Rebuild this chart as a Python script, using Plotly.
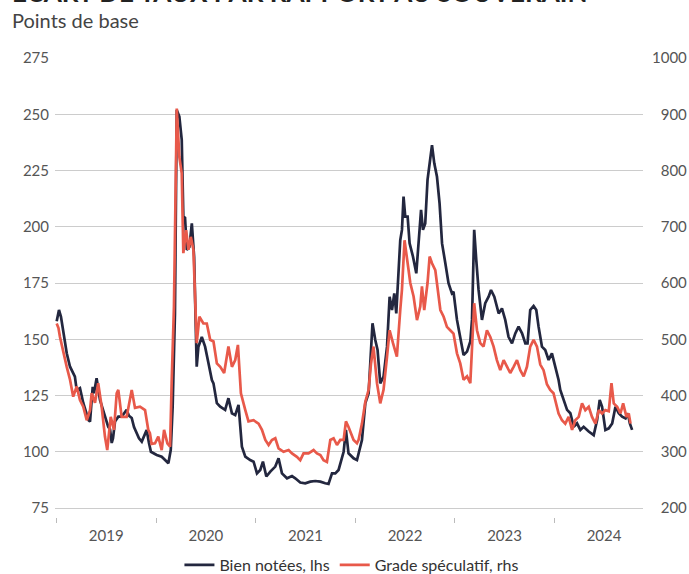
import math
from datetime import datetime, timedelta
import plotly.graph_objects as go

# ---------------- data (decimal years, basis points) ----------------
bien_t = [2019.002, 2019.025, 2019.045, 2019.068, 2019.103, 2019.136, 2019.165, 2019.185, 2019.203, 2019.236,
          2019.269, 2019.304, 2019.322, 2019.337, 2019.364, 2019.377, 2019.403, 2019.437, 2019.467, 2019.487,
          2019.520, 2019.538, 2019.555, 2019.568, 2019.588, 2019.621, 2019.655, 2019.678, 2019.705, 2019.728,
          2019.756, 2019.779, 2019.806, 2019.829, 2019.857, 2019.880, 2019.906, 2019.929, 2019.949, 2020.007,
          2020.057, 2020.091, 2020.124, 2020.148, 2020.167, 2020.190, 2020.208, 2020.234, 2020.258, 2020.274,
          2020.291, 2020.309, 2020.335, 2020.359, 2020.382, 2020.408, 2020.425, 2020.459, 2020.492, 2020.526,
          2020.560, 2020.576, 2020.610, 2020.644, 2020.693, 2020.726, 2020.761, 2020.794, 2020.827, 2020.861,
          2020.895, 2020.944, 2020.978, 2021.012, 2021.045, 2021.072, 2021.106, 2021.146, 2021.196, 2021.229,
          2021.263, 2021.314, 2021.364, 2021.397, 2021.447, 2021.497, 2021.548, 2021.598, 2021.649, 2021.698,
          2021.731, 2021.766, 2021.799, 2021.832, 2021.856, 2021.883, 2021.906, 2021.932, 2021.983, 2022.017,
          2022.067, 2022.101, 2022.134, 2022.151, 2022.173, 2022.201, 2022.224, 2022.251, 2022.284, 2022.319,
          2022.345, 2022.369, 2022.392, 2022.412, 2022.435, 2022.452, 2022.469, 2022.485, 2022.502, 2022.526,
          2022.546, 2022.580, 2022.613, 2022.637, 2022.661, 2022.680, 2022.703, 2022.726, 2022.747, 2022.771,
          2022.794, 2022.821, 2022.847, 2022.872, 2022.905, 2022.937, 2022.971, 2022.987, 2023.022, 2023.055,
          2023.088, 2023.123, 2023.156, 2023.173, 2023.195, 2023.216, 2023.239, 2023.273, 2023.306, 2023.340,
          2023.364, 2023.397, 2023.441, 2023.474, 2023.507, 2023.540, 2023.575, 2023.608, 2023.641, 2023.676,
          2023.709, 2023.731, 2023.758, 2023.792, 2023.819, 2023.842, 2023.876, 2023.909, 2023.943, 2023.976,
          2024.010, 2024.043, 2024.060, 2024.094, 2024.128, 2024.161, 2024.195, 2024.228, 2024.261, 2024.294,
          2024.345, 2024.395, 2024.429, 2024.455, 2024.479, 2024.512, 2024.546, 2024.580, 2024.613, 2024.646,
          2024.680, 2024.714, 2024.737, 2024.757, 2024.780]
bien_v = [158, 163, 160, 152.8, 143.8, 137.8, 135, 133.4, 127.4, 128.3,
          121.7, 116.3, 114, 113.4, 128.9, 126, 132.7, 123, 119, 115.6,
          111.1, 110, 103.9, 106, 113.4, 115.6, 115.6, 117, 118.6, 116,
          115, 111, 108.3, 106, 104.5, 107, 109.7, 104, 100, 98.6,
          97.8, 96.3, 94.9, 100.8, 120, 161.5, 251.9, 249, 238.6, 204.5,
          204, 189.7, 191, 201.5, 186.7, 137.8, 146.7, 151, 146.7, 139.3,
          131.9, 130.4, 121.6, 120, 118.6, 123.8, 117.1, 116.3, 120.8, 102.2,
          97.8, 96.3, 95.6, 90.4, 91.9, 95.6, 89, 91.2, 93.4, 97.1,
          90.4, 88.2, 89.2, 88.2, 86.3, 86, 86.7, 87, 86.7, 86,
          85.7, 90.4, 90.4, 91.9, 95.6, 100, 109.7, 99.3, 97.1, 96.3,
          105.2, 121.6, 126, 140.8, 157.1, 149.7, 145.2, 130.4, 133.4, 146.7,
          168.9, 163, 170.4, 161.5, 177.8, 194.1, 198.6, 213.4, 204.5, 204.5,
          192.6, 186.7, 179.3, 194.1, 207.5, 198.6, 201.5, 220.8, 228.2, 236.3,
          228.2, 222.2, 210.4, 192.6, 183.8, 174.9, 170.4, 171.1, 158.6, 151.1,
          143, 144.5, 149, 158.6, 198.6, 185.2, 171.9, 158.6, 166, 168.9,
          171.9, 168.9, 161.5, 163.7, 158.6, 151.1, 148.2, 152.6, 155.6, 152.6,
          148.2, 148.2, 163, 164.8, 163, 155.6, 146.7, 145.2, 140.8, 143.7,
          137.8, 131.9, 127.5, 123, 118.6, 117.1, 111.1, 112.6, 109.7, 111.1,
          109, 107.4, 114.1, 123, 120, 109.7, 110.4, 112.6, 120, 117.1,
          115.6, 114.8, 117.1, 112.6, 109.7]

spec_t = [2019.002, 2019.020, 2019.035, 2019.068, 2019.103, 2019.136, 2019.168, 2019.203, 2019.236, 2019.269,
          2019.304, 2019.337, 2019.354, 2019.387, 2019.419, 2019.454, 2019.487, 2019.510, 2019.545, 2019.578,
          2019.605, 2019.621, 2019.655, 2019.705, 2019.756, 2019.789, 2019.839, 2019.890, 2019.922, 2019.939,
          2019.956, 2019.990, 2020.023, 2020.057, 2020.081, 2020.114, 2020.141, 2020.157, 2020.180, 2020.208,
          2020.234, 2020.258, 2020.274, 2020.302, 2020.325, 2020.349, 2020.375, 2020.408, 2020.435, 2020.475,
          2020.509, 2020.543, 2020.576, 2020.610, 2020.644, 2020.683, 2020.726, 2020.761, 2020.794, 2020.821,
          2020.851, 2020.895, 2020.927, 2020.978, 2021.028, 2021.062, 2021.096, 2021.129, 2021.162, 2021.196,
          2021.229, 2021.279, 2021.330, 2021.364, 2021.413, 2021.447, 2021.480, 2021.530, 2021.581, 2021.615,
          2021.649, 2021.681, 2021.715, 2021.749, 2021.782, 2021.816, 2021.849, 2021.883, 2021.906, 2021.932,
          2021.983, 2022.017, 2022.033, 2022.067, 2022.101, 2022.134, 2022.158, 2022.183, 2022.218, 2022.251,
          2022.284, 2022.319, 2022.345, 2022.379, 2022.418, 2022.452, 2022.469, 2022.495, 2022.519, 2022.553,
          2022.586, 2022.620, 2022.653, 2022.670, 2022.693, 2022.726, 2022.747, 2022.771, 2022.804, 2022.827,
          2022.855, 2022.888, 2022.921, 2022.954, 2022.987, 2023.022, 2023.055, 2023.088, 2023.123, 2023.156,
          2023.173, 2023.195, 2023.223, 2023.256, 2023.289, 2023.323, 2023.357, 2023.390, 2023.423, 2023.457,
          2023.491, 2023.524, 2023.557, 2023.591, 2023.625, 2023.658, 2023.692, 2023.725, 2023.758, 2023.792,
          2023.826, 2023.859, 2023.892, 2023.926, 2023.959, 2023.992, 2024.027, 2024.043, 2024.077, 2024.110,
          2024.144, 2024.178, 2024.210, 2024.245, 2024.278, 2024.311, 2024.345, 2024.378, 2024.412, 2024.446,
          2024.479, 2024.512, 2024.546, 2024.573, 2024.596, 2024.630, 2024.663, 2024.690, 2024.723, 2024.746,
          2024.764]
spec_v = [528, 520, 504, 476, 451, 428, 398, 416, 392, 380,
          356, 374, 404, 387, 422, 380, 327, 303, 362, 339,
          404, 410, 362, 362, 410, 378, 380, 374, 339, 333,
          314, 315, 327, 303, 339, 315, 309, 422, 558, 910,
          824, 795, 653, 694, 659, 682, 659, 493, 540, 528,
          528, 499, 496, 457, 451, 440, 487, 451, 463, 490,
          404, 374, 354, 356, 350, 339, 321, 312, 321, 324,
          306, 300, 303, 297, 291, 285, 297, 297, 303, 297,
          294, 285, 282, 321, 324, 312, 321, 321, 354, 344,
          321, 315, 321, 350, 389, 410, 457, 487, 422, 386,
          410, 469, 516, 493, 469, 552, 588, 676, 647, 600,
          576, 534, 558, 594, 552, 600, 647, 635, 623, 594,
          552, 540, 522, 516, 510, 475, 457, 428, 434, 422,
          475, 564, 516, 493, 487, 516, 504, 487, 463, 445,
          463, 451, 440, 451, 463, 445, 434, 451, 487, 499,
          487, 455, 445, 420, 410, 404, 380, 368, 356, 350,
          362, 339, 356, 362, 386, 374, 380, 362, 350, 374,
          368, 374, 372, 422, 386, 380, 368, 386, 362, 368,
          350]

left_ticks = [75, 100, 125, 150, 175, 200, 225, 250, 275]
right_ticks = [200, 300, 400, 500, 600, 700, 800, 900, 1000]

title_text = "ÉCART DE TAUX PAR RAPPORT AU SOUVERAIN"
subtitle_text = "Points de base"
name_bien = "Bien notées, lhs"
name_spec = "Grade spéculatif, rhs"


def dec_to_date(t):
    y = int(math.floor(t))
    start = datetime(y, 1, 1)
    n = (datetime(y + 1, 1, 1) - start).days
    return start + timedelta(days=(t - y) * n)


bien_x = [dec_to_date(t) for t in bien_t]
spec_x = [dec_to_date(t) for t in spec_t]

NAVY = "#23273f"
RED = "#e8594a"
FONT = "Lato"

W, H = 689, 574
ML, MR, MT, MB = 55, 46, 58, 57
PH = H - MT - MB
PW = W - ML - MR

fig = go.Figure()
fig.add_trace(go.Scatter(x=bien_x, y=bien_v, mode="lines", name=name_bien,
                         line=dict(color=NAVY, width=2.7), yaxis="y"))
fig.add_trace(go.Scatter(x=spec_x, y=spec_v, mode="lines", name=name_spec,
                         line=dict(color=RED, width=2.7), yaxis="y2"))

fig.update_layout(
    width=W, height=H,
    margin=dict(l=ML, r=MR, t=MT, b=MB, autoexpand=False),
    paper_bgcolor="white", plot_bgcolor="white",
    font=dict(family=FONT, color="#555555", size=15),
    xaxis=dict(type="date",
               range=[dec_to_date(2018.985), dec_to_date(2024.889)],
               tick0="2019-01-01", dtick="M12", tickformat="%Y",
               ticklabelmode="period", showgrid=False, zeroline=False,
               ticks="outside", ticklen=5, tickcolor="#bbbbbb", tickwidth=1,
               showline=False, tickfont=dict(size=15, color="#555555")),
    yaxis=dict(range=[71, 275], tickvals=left_ticks, ticktext=[str(v) for v in left_ticks],
               showgrid=True, gridcolor="#cccccc", gridwidth=1, zeroline=False,
               showline=False, ticks="", ticklabelstandoff=5,
               tickfont=dict(size=15, color="#555555")),
    yaxis2=dict(range=[184, 1000], overlaying="y", side="right",
                tickvals=right_ticks,
                ticktext=[("\u2007" if v < 1000 else "") + str(v) for v in right_ticks],
                showgrid=False, zeroline=False, showline=False, ticks="",
                ticklabelstandoff=8, tickfont=dict(size=15, color="#555555")),
    showlegend=True,
    legend=dict(orientation="h", x=0.505, xanchor="center",
                y=(517 - 565) / PH, yanchor="middle",
                font=dict(size=16, color="#333333"), itemwidth=30,
                bgcolor="rgba(0,0,0,0)", tracegroupgap=0),
    annotations=[
        dict(text="<b>" + title_text + "</b>", xref="paper", yref="paper",
             x=(10 - ML) / PW, xanchor="left", y=(517 + 8) / PH, yanchor="middle",
             showarrow=False, font=dict(family=FONT, size=26, color="#222222")),
        dict(text=subtitle_text, xref="paper", yref="paper",
             x=(10 - ML) / PW, xanchor="left", y=(517 - 20) / PH, yanchor="middle",
             showarrow=False, font=dict(family=FONT, size=20, color="#444444")),
    ],
)

fig.write_html("out.html")
